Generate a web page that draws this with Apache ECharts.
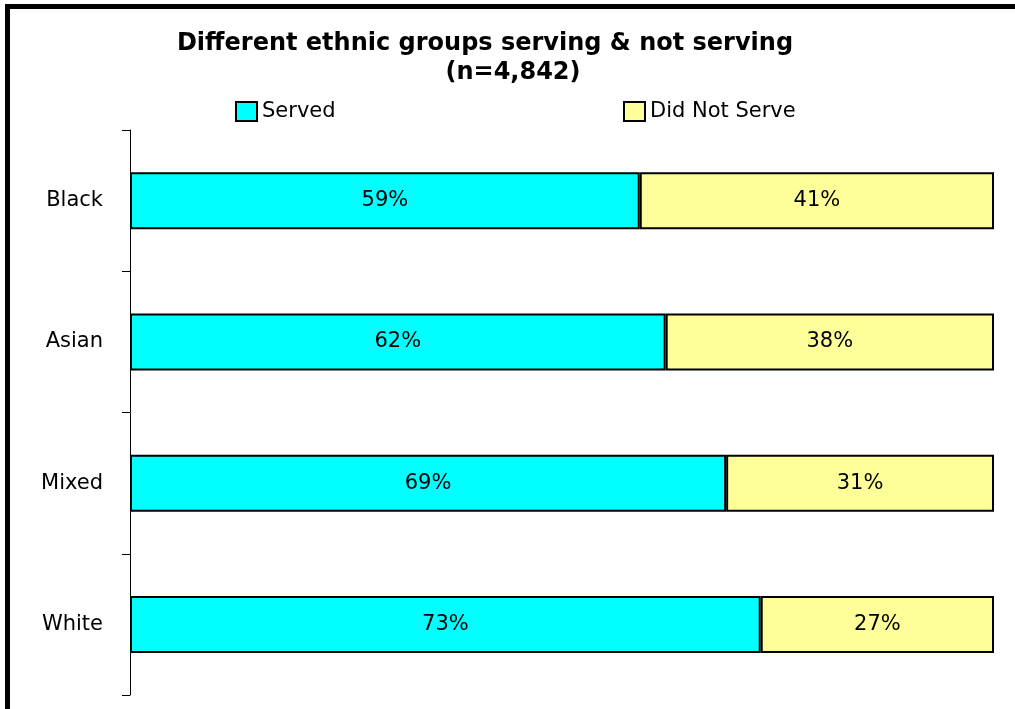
<!DOCTYPE html>
<html>
<head>
<meta charset="utf-8">
<script src="https://cdn.jsdelivr.net/npm/echarts@6/dist/echarts.min.js"></script>
<style>
  html, body { margin: 0; padding: 0; background: #fff; }
  #chart { width: 1015px; height: 709px; }
</style>
</head>
<body>
<div id="chart"></div>
<script>
// Share of each ethnic group that served / did not serve (percent)
const groups = ['Black', 'Asian', 'Mixed', 'White'];
const served = [59, 62, 69, 73];
const didNotServe = [41, 38, 31, 27];
const seriesNames = ['Served', 'Did Not Serve'];
const colors = ['#00FFFF', '#FFFF99'];

const FONT = 'DejaVu Sans';

const chart = echarts.init(document.getElementById('chart'), null, { renderer: 'canvas' });

const barLabel = {
  show: true,
  position: 'inside',
  formatter: '{c}%',
  color: '#000',
  fontFamily: FONT,
  fontSize: 21
};

const legendBase = {
  itemWidth: 21, itemHeight: 19, itemGap: 0, padding: 0,
  icon: 'rect',
  textStyle: { fontFamily: FONT, fontSize: 21, color: '#000', padding: [0, 0, 0, 0] }
};

const option = {
  backgroundColor: '#fff',
  animation: false,
  title: [
    {
      text: 'Different ethnic groups serving & not serving',
      left: 480, top: 27, textAlign: 'center',
      textStyle: { fontFamily: FONT, fontWeight: 'bold', fontSize: 24, color: '#000' }
    },
    {
      text: '(n=4,842)',
      left: 508, top: 56, textAlign: 'center',
      textStyle: { fontFamily: FONT, fontWeight: 'bold', fontSize: 24, color: '#000' }
    }
  ],
  legend: [
    Object.assign({ data: [seriesNames[0]], left: 235, top: 101 }, legendBase),
    Object.assign({ data: [seriesNames[1]], left: 623, top: 101 }, legendBase)
  ],
  grid: { left: 130, right: 21, top: 130, bottom: 14, containLabel: false },
  xAxis: {
    type: 'value', min: 0, max: 100, show: false
  },
  yAxis: {
    type: 'category',
    data: groups,
    inverse: true,
    axisLine: { show: true, lineStyle: { color: '#000', width: 1 } },
    axisTick: { show: true, inside: false, length: 8, lineStyle: { color: '#000' } },
    axisLabel: { margin: 27, color: '#000', fontFamily: FONT, fontSize: 21 },
    splitLine: { show: false }
  },
  series: [
    {
      name: seriesNames[0], type: 'bar', stack: 'total', data: served,
      barWidth: 57,
      itemStyle: { color: colors[0], borderColor: '#000', borderWidth: 2 },
      label: barLabel
    },
    {
      name: seriesNames[1], type: 'bar', stack: 'total', data: didNotServe,
      barWidth: 57,
      itemStyle: { color: colors[1], borderColor: '#000', borderWidth: 2 },
      label: barLabel
    }
  ],
  graphic: [
    {
      type: 'rect', silent: true, z: 100,
      shape: { x: 7.5, y: 6.5, width: 1100, height: 800 },
      style: { fill: 'none', stroke: '#000', lineWidth: 5 }
    }
  ]
};

chart.setOption(option);
</script>
</body>
</html>
